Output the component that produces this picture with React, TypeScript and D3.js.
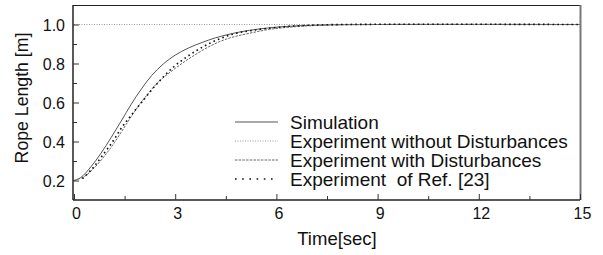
import React, { useEffect, useRef } from 'react';
import * as d3 from 'd3';

// time samples [sec] and rope length [m]
const simTime = [0, 0.2, 0.5, 0.8, 1.1, 1.4, 1.7, 2.0, 2.3, 2.65, 3.0, 3.4, 3.8, 4.2, 4.7, 5.2, 5.8, 6.5, 7.5, 9, 15];
const simLength = [0.2, 0.215, 0.27, 0.34, 0.42, 0.505, 0.592, 0.67, 0.738, 0.798, 0.843, 0.88, 0.908, 0.932, 0.954, 0.97, 0.983, 0.992, 0.998, 1.0, 1.0];

const noDistTime = [0, 15];
const noDistLength = [1.0, 1.0];

const distTime = [0, 0.3, 0.6, 0.9, 1.2, 1.5, 1.8, 2.1, 2.5, 3.0, 3.5, 4.1, 4.6, 5.2, 5.8, 6.5, 7.5, 9, 15];
const distLength = [0.2, 0.22, 0.265, 0.325, 0.395, 0.475, 0.555, 0.625, 0.705, 0.775, 0.835, 0.895, 0.93, 0.955, 0.975, 0.988, 0.997, 1.0, 1.0];

const refTime = [0.25, 0.55, 0.85, 1.15, 1.4, 1.7, 2.0, 2.45, 2.95, 3.5, 4.1, 4.7, 5.3, 6.0, 6.8, 8, 15];
const refLength = [0.209, 0.262, 0.33, 0.4, 0.468, 0.536, 0.6, 0.694, 0.782, 0.852, 0.91, 0.95, 0.97, 0.985, 0.995, 1.0, 1.0];

const xTicks = [0, 3, 6, 9, 12, 15];
const yTicks = [0.2, 0.4, 0.6, 0.8, 1.0];

const legendLabels = [
  'Simulation',
  'Experiment without Disturbances',
  'Experiment with Disturbances',
  'Experiment  of Ref. [23]',
];

const App = () => {
  const ref = useRef<HTMLDivElement>(null);

  useEffect(() => {
    const width = 603;
    const height = 255;
    const margin = { top: 5, right: 23, bottom: 55, left: 73 };
    const font = 'Arial, "Liberation Sans", sans-serif';

    d3.select(ref.current).select('svg').remove();

    const svg = d3.select(ref.current)
      .append('svg')
      .attr('width', width)
      .attr('height', height)
      .style('display', 'block')
      .style('background', '#fff');

    const x = d3.scaleLinear().domain([0, 15]).range([margin.left + 1, width - margin.right]);
    const y = d3.scaleLinear().domain([0.1, 1.1]).range([height - margin.bottom, margin.top]);

    const x0 = margin.left;
    const x1 = width - margin.right;
    const y0 = height - margin.bottom;
    const y1 = margin.top;

    // frame: top and right
    svg.append('line').attr('x1', x0).attr('x2', x1).attr('y1', y1 + 0.5).attr('y2', y1 + 0.5)
      .attr('stroke', '#222').attr('stroke-width', 1);
    svg.append('line').attr('x1', x1 + 0.5).attr('x2', x1 + 0.5).attr('y1', y1).attr('y2', y0)
      .attr('stroke', '#777').attr('stroke-width', 2);

    // series
    const series = [
      { t: simTime, v: simLength, color: '#555', dash: null, legendDash: null, w: 1 },
      { t: noDistTime, v: noDistLength, color: '#999', dash: '1,1.5', legendDash: '1,1.5', w: 1 },
      { t: distTime, v: distLength, color: '#666', dash: '2.5,1.2', legendDash: '2.5,1.2', w: 1 },
      { t: refTime, v: refLength, color: '#111', dash: '1.6,3.2', legendDash: '1.6,5.6', w: 1.6 },
    ];
    const line = d3.line<[number, number]>()
      .x(d => x(d[0]))
      .y(d => y(d[1]))
      .curve(d3.curveCatmullRom.alpha(0.5));

    series.forEach(s => {
      const pts = s.t.map((t, i) => [t, s.v[i]] as [number, number]);
      svg.append('path')
        .attr('d', line(pts))
        .attr('fill', 'none')
        .attr('stroke', s.color)
        .attr('stroke-width', s.w)
        .attr('stroke-dasharray', s.dash);
    });

    // x axis (ticks pointing inward)
    const xAxis = svg.append('g')
      .attr('transform', `translate(0, ${y0})`)
      .call(d3.axisBottom(x).tickValues(d3.range(0, 15.01, 1.5)).tickSize(-4).tickFormat(() => ''));
    xAxis.select('.domain').attr('d', `M${x0},0H${x1}`).attr('stroke', '#222').attr('stroke-width', 1.5);
    xAxis.selectAll('.tick line').attr('y2', (d: any) => (xTicks.includes(d) ? -6 : -4)).attr('stroke', '#333');
    xAxis.selectAll('.tick').filter((d: any) => xTicks.includes(d))
      .append('text')
      .attr('x', 2)
      .attr('y', 19)
      .attr('fill', '#111')
      .style('font-family', font)
      .style('font-size', '16px')
      .attr('text-anchor', 'middle')
      .text((d: any) => d);

    // y axis
    const yAxis = svg.append('g')
      .attr('transform', `translate(${x0}, 0)`)
      .call(d3.axisLeft(y).tickValues(d3.range(0.2, 1.051, 0.1)).tickSize(-4).tickFormat(() => ''));
    yAxis.select('.domain').attr('d', `M0,${y0}V${y1}`).attr('stroke', '#222').attr('stroke-width', 1.5);
    yAxis.selectAll('.tick line').attr('x2', (d: any) => (yTicks.some(t => Math.abs(t - d) < 1e-6) ? 6 : 4)).attr('stroke', '#333');
    yAxis.selectAll('.tick').filter((d: any) => yTicks.some(t => Math.abs(t - d) < 1e-6))
      .append('text')
      .attr('x', -8)
      .attr('dy', '0.36em')
      .attr('fill', '#111')
      .style('font-family', font)
      .style('font-size', '16px')
      .attr('text-anchor', 'end')
      .text((d: any) => d3.format('.1f')(d));

    // axis titles
    svg.append('text')
      .attr('x', 337)
      .attr('y', 245)
      .attr('text-anchor', 'middle')
      .style('font-family', font)
      .style('font-size', '18.5px')
      .attr('fill', '#111')
      .text('Time[sec]');

    svg.append('text')
      .attr('transform', `translate(28, 98) rotate(-90)`)
      .attr('text-anchor', 'middle')
      .style('font-family', font)
      .style('font-size', '17.7px')
      .attr('fill', '#111')
      .text('Rope Length [m]');

    // legend
    const legend = svg.append('g').attr('transform', 'translate(235, 122)');
    legendLabels.forEach((label, i) => {
      const s = series[i];
      legend.append('line')
        .attr('x1', 0).attr('x2', 43)
        .attr('y1', i * 19).attr('y2', i * 19)
        .attr('stroke', s.color)
        .attr('stroke-width', s.w)
        .attr('stroke-dasharray', s.legendDash);
      legend.append('text')
        .attr('x', 55)
        .attr('y', i * 19)
        .attr('dy', '0.35em')
        .style('font-family', font)
        .style('font-size', '19px')
        .attr('fill', '#111')
        .style('white-space', 'pre')
        .text(label);
    });
  }, []);

  return (
    <div ref={ref} style={{ position: 'absolute', left: 0, top: 0, width: 603, height: 255 }}></div>
  );
};

export default App;
